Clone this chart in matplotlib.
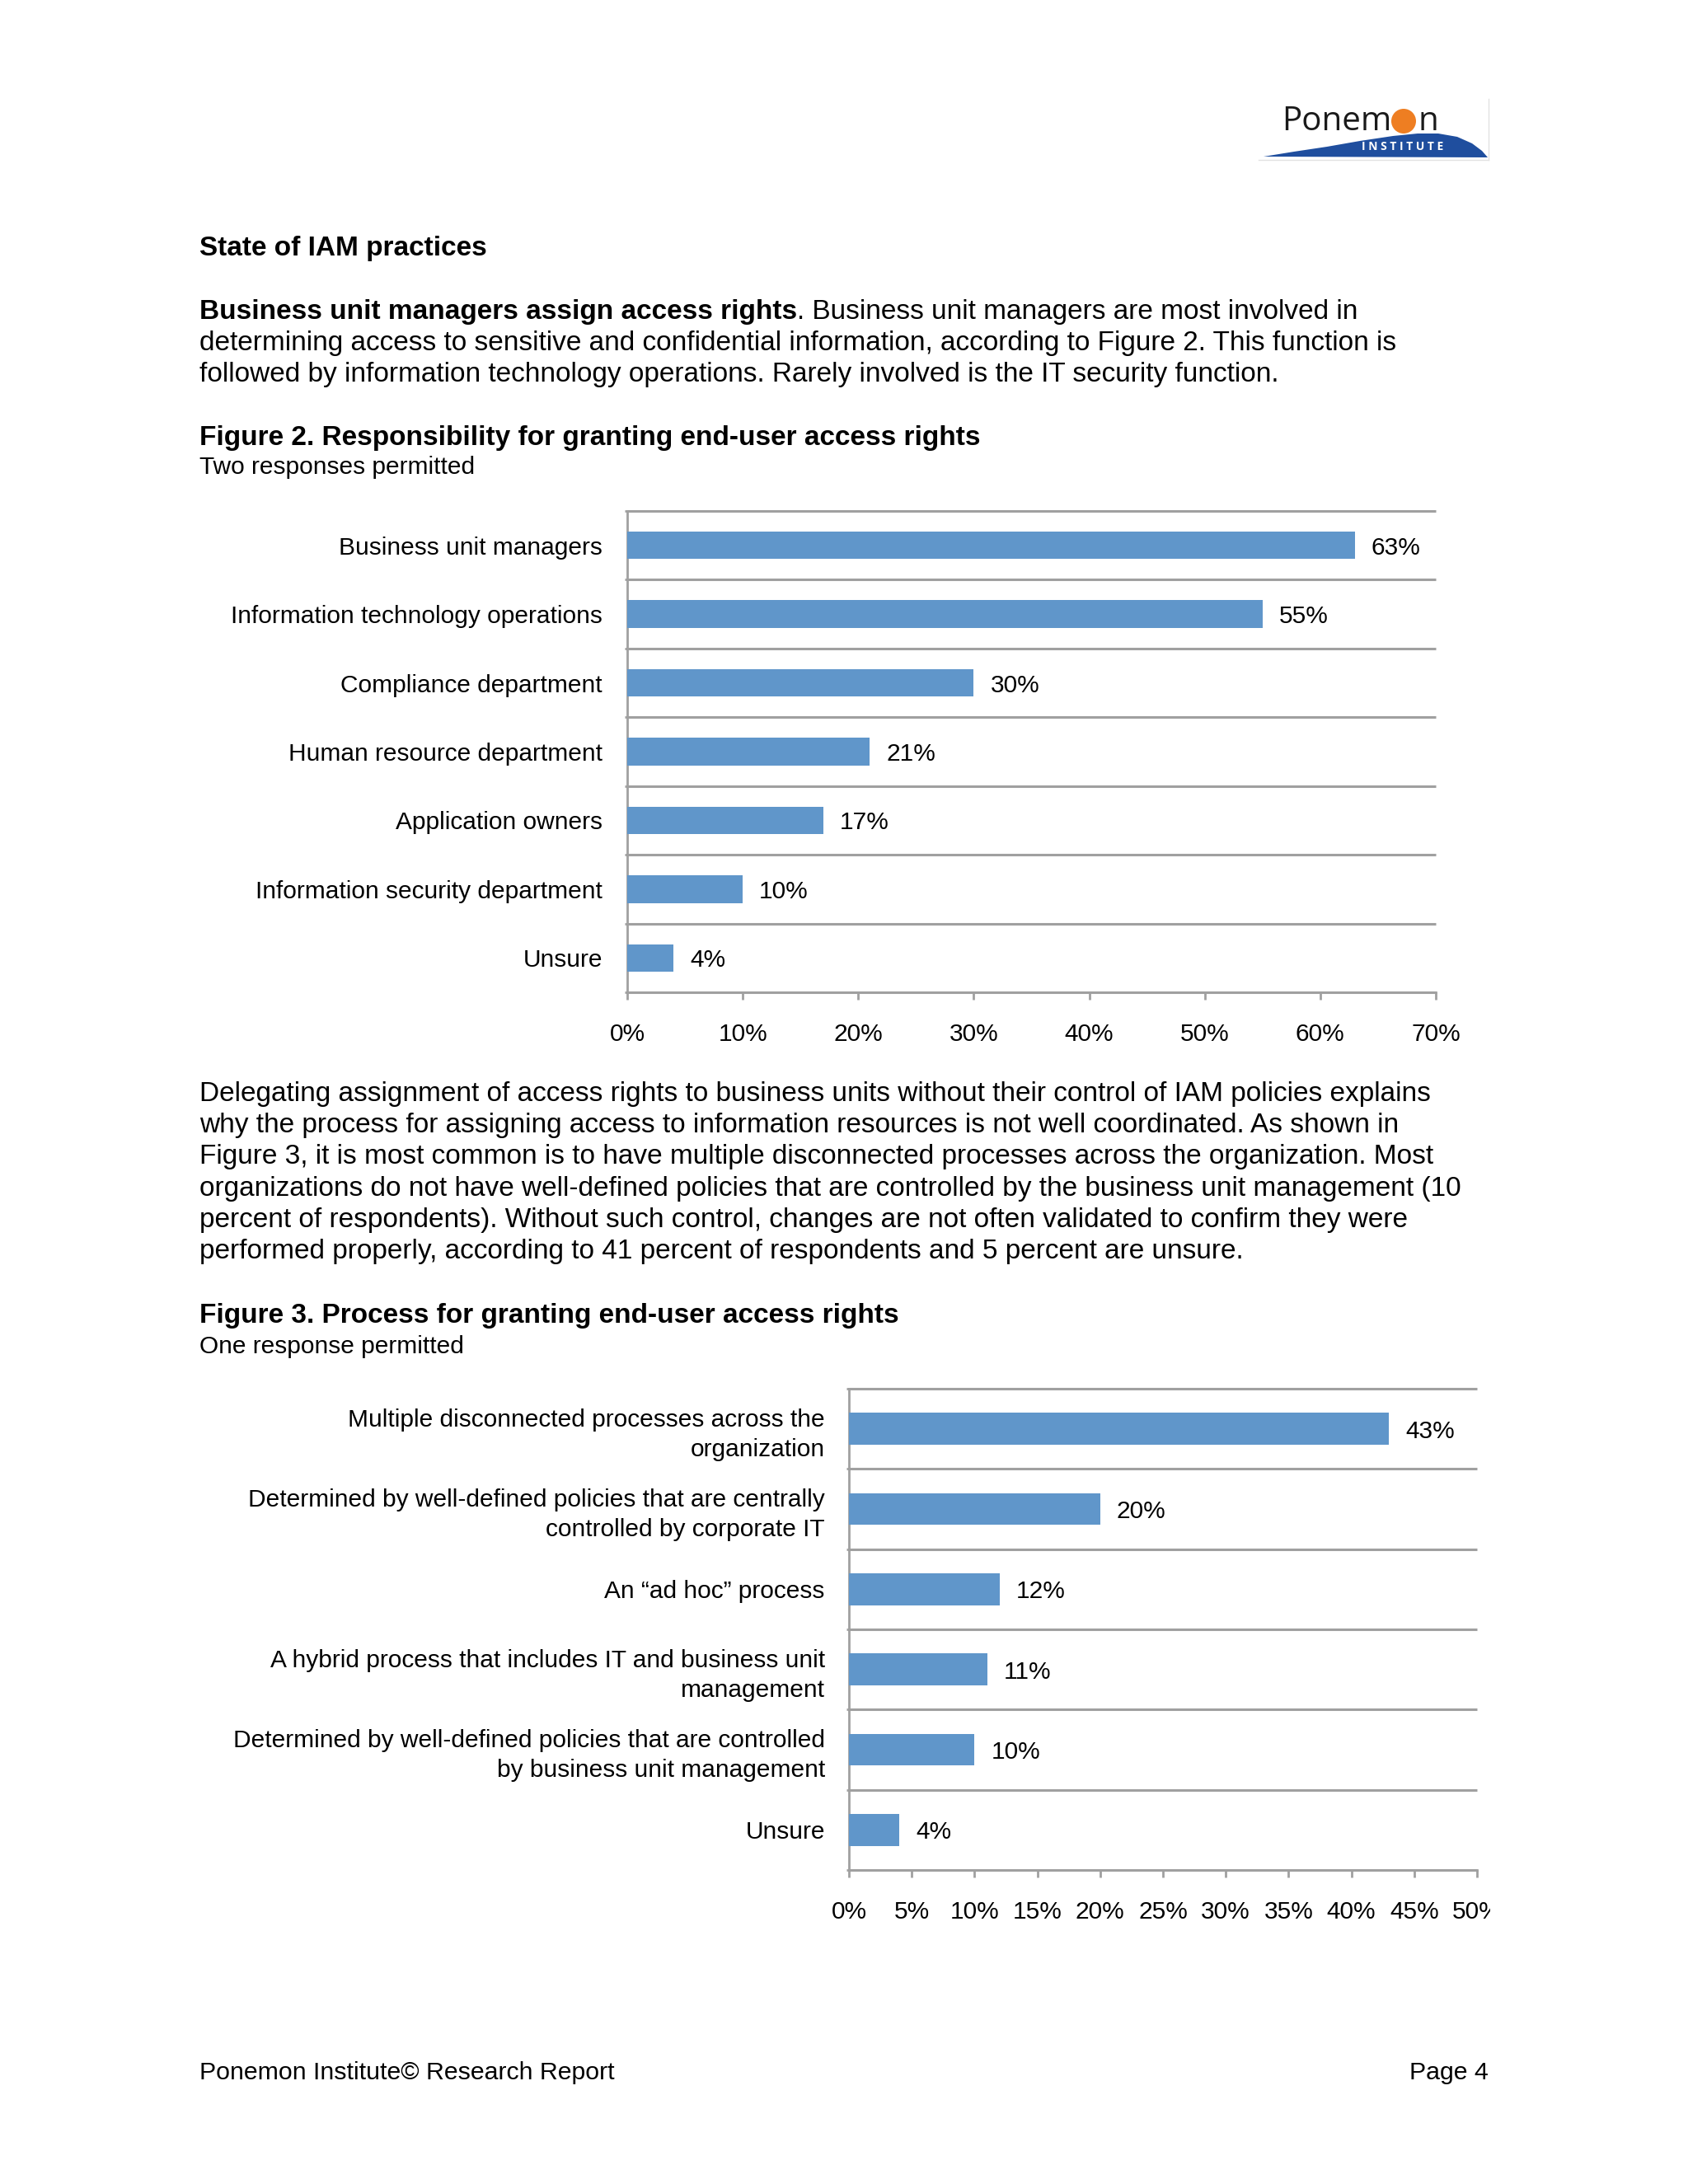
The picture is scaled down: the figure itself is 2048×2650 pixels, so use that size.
import numpy as np
import matplotlib
matplotlib.use('Agg')
import matplotlib.pyplot as plt
from matplotlib.patches import Polygon, Circle
from matplotlib.transforms import Bbox, TransformedBbox

plt.rcParams['font.family'] = ['Liberation Sans', 'DejaVu Sans']

W, H = 2048, 2650
BAR = '#6096CA'
GRID = '#A0A0A0'

# Figure 2 data
fig2_labels = ['Business unit managers', 'Information technology operations',
               'Compliance department', 'Human resource department',
               'Application owners', 'Information security department', 'Unsure']
fig2_values = [63, 55, 30, 21, 17, 10, 4]
fig2_ticks = [0, 10, 20, 30, 40, 50, 60, 70]

# Figure 3 data
fig3_labels = ['Multiple disconnected processes across the\norganization',
               'Determined by well-defined policies that are centrally\ncontrolled by corporate IT',
               'An \u201cad hoc\u201d process',
               'A hybrid process that includes IT and business unit\nmanagement',
               'Determined by well-defined policies that are controlled\nby business unit management',
               'Unsure']
fig3_values = [43, 20, 12, 11, 10, 4]
fig3_ticks = [0, 5, 10, 15, 20, 25, 30, 35, 40, 45, 50]

para1 = ['determining access to sensitive and confidential information, according to Figure 2. This function is',
         'followed by information technology operations. Rarely involved is the IT security function.']
para2 = ['Delegating assignment of access rights to business units without their control of IAM policies explains',
         'why the process for assigning access to information resources is not well coordinated. As shown in',
         'Figure 3, it is most common is to have multiple disconnected processes across the organization. Most',
         'organizations do not have well-defined policies that are controlled by the business unit management (10',
         'percent of respondents). Without such control, changes are not often validated to confirm they were',
         'performed properly, according to 41 percent of respondents and 5 percent are unsure.']

fig = plt.figure(figsize=(W / 100, H / 100), dpi=100)
fig.patch.set_facecolor('white')

# page layer in pixel coordinates
page = fig.add_axes([0, 0, 1, 1])
page.set_xlim(0, W)
page.set_ylim(H, 0)
page.axis('off')
renderer = fig.canvas.get_renderer()

BODY = 24
SMALL = 21.5
LEFT = 242

# logo
dome = [(1533, 190), (1570, 184), (1610, 178), (1650, 171), (1690, 165), (1720, 162),
        (1745, 162), (1768, 166), (1786, 174), (1798, 183), (1805, 191)]
page.add_patch(Polygon(dome, closed=True, facecolor='#1F4E9E', edgecolor='none'))
page.add_patch(Circle((1703, 147), 15, facecolor='#EE7E22', edgecolor='none'))
pon = page.text(1555, 158, 'Ponem', fontsize=30, family='Open Sans', color='#1a1a1a',
                ha='left', va='baseline')
pw = pon.get_window_extent(renderer).width
logo_fs = 30 * 133 / pw
pon.set_fontsize(logo_fs)
page.text(1721, 158, 'n', fontsize=logo_fs, family='Open Sans', color='#1a1a1a',
          ha='left', va='baseline')
page.text(1702, 178, 'I N S T I T U T E', fontsize=10, family='Open Sans',
          fontweight='bold', color='white', ha='center', va='center')
page.plot([1806, 1806], [120, 194], color='#E2E2E2', lw=1)
page.plot([1527, 1806], [194, 194], color='#E2E2E2', lw=1)

# text blocks
page.text(LEFT, 310, 'State of IAM practices', fontsize=BODY, fontweight='bold', va='baseline')
bold = page.text(LEFT, 387, 'Business unit managers assign access rights', fontsize=BODY,
                 fontweight='bold', va='baseline')
bx = bold.get_window_extent(renderer).x1
page.text(bx, 387, '. Business unit managers are most involved in', fontsize=BODY, va='baseline')
for i, line in enumerate(para1):
    page.text(LEFT, 425 + i * 38.3, line, fontsize=BODY, va='baseline')
page.text(LEFT, 540, 'Figure 2. Responsibility for granting end-user access rights',
          fontsize=BODY, fontweight='bold', va='baseline')
page.text(LEFT, 575, 'Two responses permitted', fontsize=SMALL, va='baseline')

for i, line in enumerate(para2):
    page.text(LEFT, 1336 + i * 38.2, line, fontsize=BODY, va='baseline')
page.text(LEFT, 1605, 'Figure 3. Process for granting end-user access rights',
          fontsize=BODY, fontweight='bold', va='baseline')
page.text(LEFT, 1642, 'One response permitted', fontsize=SMALL, va='baseline')

page.text(LEFT, 2523, 'Ponemon Institute\u00a9 Research Report', fontsize=21.8, va='baseline')
page.text(1806, 2523, 'Page 4', fontsize=21.8, va='baseline', ha='right')


def bar_chart(l, t, r, b, labels, values, ticks, ypad):
    ax = fig.add_axes([l / W, 1 - b / H, (r - l) / W, (b - t) / H])
    n = len(labels)
    y = np.arange(n)
    ax.barh(y, values, height=0.4, color=BAR, zorder=3)
    ax.set_xlim(ticks[0], ticks[-1])
    ax.set_ylim(n - 0.5, -0.5)
    bounds = np.arange(n + 1) - 0.5
    ax.hlines(bounds, ticks[0], ticks[-1], color=GRID, lw=2.2, clip_on=False, zorder=2)
    ax.set_yticks(y)
    ax.set_yticklabels(labels, fontsize=SMALL, ha='right', multialignment='right',
                       linespacing=1.38)
    ax.set_yticks(bounds, minor=True)
    ax.tick_params(axis='y', which='major', length=0, pad=ypad)
    ax.tick_params(axis='y', which='minor', length=2.5, width=2, color=GRID)
    ax.set_xticks(ticks)
    ax.set_xticklabels([f'{v}%' for v in ticks], fontsize=SMALL)
    ax.tick_params(axis='x', length=6.5, width=2, color=GRID, pad=20)
    for s in ['top', 'right']:
        ax.spines[s].set_visible(False)
    for s in ['left', 'bottom']:
        ax.spines[s].set_color(GRID)
        ax.spines[s].set_linewidth(2)
    for yi, v in zip(y, values):
        ax.annotate(f'{v}%', (v, yi), xytext=(14.4, 0), textcoords='offset points',
                    ha='left', va='center_baseline', fontsize=SMALL)
    return ax


ax1 = bar_chart(761, 620, 1742, 1204, fig2_labels, fig2_values, fig2_ticks, 21.6)
ax2 = bar_chart(1030, 1685, 1792, 2269, fig3_labels, fig3_values, fig3_ticks, 21)

# the source image is cut at the right edge of the page frame
clip = TransformedBbox(Bbox([[0, 0], [1808 / 100, H / 100]]), fig.dpi_scale_trans)
for lab in ax2.get_xticklabels():
    lab.set_clip_box(clip)
    lab.set_clip_on(True)

fig.savefig('out.png', dpi=100, facecolor='white')
